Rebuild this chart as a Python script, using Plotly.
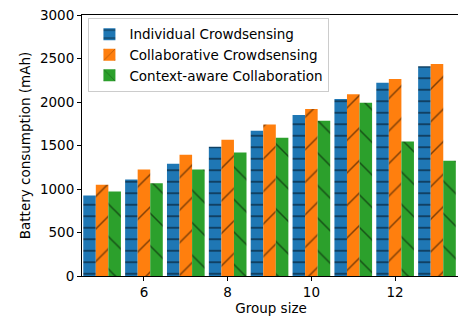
import plotly.graph_objects as go

group_size = [5, 6, 7, 8, 9, 10, 11, 12, 13]
individual = [925, 1110, 1290, 1485, 1670, 1850, 2035, 2220, 2410]
collaborative = [1050, 1225, 1395, 1565, 1740, 1920, 2090, 2265, 2438]
context_aware = [970, 1065, 1225, 1420, 1590, 1785, 1990, 1545, 1325]

series = [
    ("Individual Crowdsensing", individual, "#1f77b4", "-", 11.5, 0.15),
    ("Collaborative Crowdsensing", collaborative, "#ff7f0e", "/", 23, 0.065),
    ("Context-aware Collaboration", context_aware, "#2ca02c", "\\", 23, 0.065),
]

fig = go.Figure()
for name, vals, color, shape, size, solid in series:
    fig.add_trace(go.Bar(
        x=group_size,
        y=vals,
        name=name,
        marker=dict(
            color=color,
            line=dict(width=0),
            pattern=dict(shape=shape, fgcolor="black", bgcolor=color,
                         size=size, solidity=solid, fillmode="overlay"),
        ),
    ))

axis_style = dict(
    showline=True, linecolor="black", linewidth=1, mirror=True,
    ticks="outside", ticklen=4, tickcolor="black", showgrid=False,
    zeroline=False, tickfont=dict(size=13.5, color="black"),
    ticklabeloverflow="allow",
)

fig.update_xaxes(
    range=[4.52, 13.55], tickvals=[6, 8, 10, 12],
    title=dict(text="Group size", font=dict(size=13.5, color="black"), standoff=2),
    **axis_style,
)
fig.update_yaxes(
    range=[0, 3000], tickvals=[0, 500, 1000, 1500, 2000, 2500, 3000],
    title=dict(text="Battery consumption (mAh)", font=dict(size=13.5, color="black"), standoff=6),
    **axis_style,
)

# figure a little wider than the window: the right frame falls just outside, as in the original
fig.update_layout(
    width=460, height=323,
    barmode="group", bargap=0.1, bargroupgap=0,
    plot_bgcolor="white", paper_bgcolor="white",
    font=dict(family="DejaVu Sans", size=13.5, color="black"),
    margin=dict(l=82, r=0, t=15, b=47),
    legend=dict(
        x=0.017, y=0.989, xanchor="left", yanchor="top",
        bgcolor="rgba(255,255,255,0.85)", bordercolor="#cccccc", borderwidth=1,
        font=dict(size=13.5), itemwidth=30, tracegroupgap=0,
    ),
)

# drop the default body margin so the figure sits at the window's corner
fig.write_html(
    "out.html",
    config={"displayModeBar": False},
    post_script="document.body.style.margin='0';document.body.style.overflow='hidden';",
)
